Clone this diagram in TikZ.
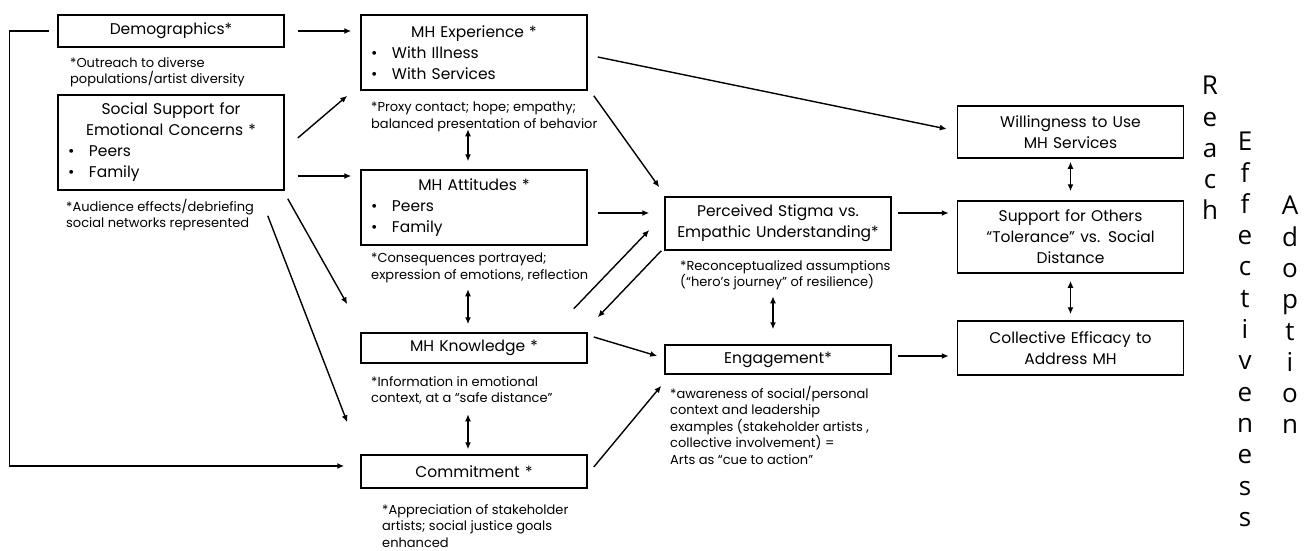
\documentclass[tikz,border=0pt]{standalone}
\usepackage{fontspec}
\setmainfont{Poppins}
\newfontfamily\notefont{Poppins}
\newfontfamily\sidefont{Open Sans}
\usetikzlibrary{arrows.meta}
\newcommand{\bulletline}[1]{\makebox[21pt][l]{\textbullet}#1}
\newcommand{\boxtitle}[1]{\makebox[206pt][c]{#1}}

\begin{document}
\begin{tikzpicture}[x=1pt, y=-1pt,
        box/.style={draw, line width=1.5pt, inner xsep=10pt, inner ysep=0pt,
          text width=206pt, align=center, font=\fontsize{15.5}{21}\selectfont},
        listbox/.style={box, align=left},
        note/.style={anchor=north west, inner sep=0pt, align=left,
          font=\notefont\fontsize{13}{16.5}\selectfont},
        side/.style={anchor=north, inner sep=0pt, align=center,
          font=\sidefont\fontsize{26}{31.3}\selectfont},
        arr/.style={line width=1.4pt, -{Latex[length=7pt,width=6pt]}},
        dbl/.style={line width=1.4pt, {Latex[length=7pt,width=6pt]}-{Latex[length=7pt,width=6pt]}}]
      \useasboundingbox (0,0) rectangle (1306,551);
      % first column
      \node[box, minimum height=32pt] (demo) at (171,31) {Demographics*};
      \node[note] (demonote) at (70,57) {*Outreach to diverse\\populations/artist diversity};
      \node[listbox, minimum height=95pt] (social) at (171,142.5) {\boxtitle{Social Support for}\\
        \boxtitle{Emotional Concerns *}\\\bulletline{Peers}\\\bulletline{Family}};
      \node[note] (socialnote) at (66,199) {*Audience effects/debriefing\\social networks represented};
      % second column
      \node[listbox, minimum height=75pt] (mhexp) at (474,52.5) {\boxtitle{MH Experience *}\\
        \bulletline{With Illness}\\\bulletline{With Services}};
      \node[note] (expnote) at (371,102) {*Proxy contact; hope; empathy;\\balanced presentation of behavior};
      \node[listbox, minimum height=75pt] (mhatt) at (474,207.5) {\boxtitle{MH Attitudes *}\\
        \bulletline{Peers}\\\bulletline{Family}};
      \node[note] (attnote) at (371,253) {*Consequences portrayed;\\expression of emotions, reflection};
      \node[box, minimum height=30pt] (mhknow) at (474,348) {MH Knowledge *};
      \node[note] (knownote) at (371,376) {*Information in emotional\\context, at a “safe distance”};
      \node[box, minimum height=33pt] (commit) at (474,471.5) {Commitment *};
      \node[note] (commitnote) at (382,504) {*Appreciation of stakeholder\\artists; social justice goals\\enhanced};
      % third column
      \node[box, minimum height=53pt] (stigma) at (778,223.5) {Perceived Stigma vs.\\Empathic Understanding*};
      \node[note] (stigmanote) at (680,260) {*Reconceptualized assumptions\\(“hero’s journey” of resilience)};
      \node[box, minimum height=29pt] (engage) at (778,359.5) {Engagement*};
      \node[note] (engagenote) at (670,386) {*awareness of social/personal\\context and leadership\\examples (stakeholder artists ,\\collective involvement) =\\Arts as “cue to action”};
      % outcomes
      \node[box, minimum height=52pt] (willing) at (1070.5,132) {Willingness to Use\\MH Services};
      \node[box, minimum height=72pt] (support) at (1070.5,237) {Support for Others\\“Tolerance” vs. Social\\Distance};
      \node[box, minimum height=54pt] (efficacy) at (1070.5,348) {Collective Efficacy to\\Address MH};
      \node[side] (reach) at (1210,76) {R\\e\\a\\c\\h};
      \node[side] (effect) at (1245,132) {E\\f\\f\\e\\c\\t\\i\\v\\e\\n\\e\\s\\s};
      \node[side] (adopt) at (1290,196) {A\\d\\o\\p\\t\\i\\o\\n};
      % connectors
      \draw[arr] ([shift={(13,0)}]demo.east) -- ([shift={(-9,-21.5)}]mhexp.west);
      \draw[arr] ([shift={(13,-4.5)}]social.east) -- ([shift={(-13,5)}]mhexp.south west);
      \draw[arr] ([shift={(13,33.5)}]social.east) -- ([shift={(-9,-31.5)}]mhatt.west);
      \draw[arr] ([shift={(3,8)}]social.south east) -- ([shift={(-13,-28)}]mhknow.north west);
      \draw[arr] ([shift={(-17,25)}]social.south east) -- ([shift={(-13,-32)}]commit.north west);
      \draw[arr] ([shift={(-8,0)}]demo.west) -- ++(-40,0) |- ([shift={(-16,-5.5)}]commit.west);
      \draw[arr] ([shift={(10,4.5)}]mhexp.east) -- ([shift={(-10,-3)}]willing.west);
      \draw[arr] ([shift={(6,5)}]mhexp.south east) -- ([shift={(-5,-9)}]stigma.north west);
      \draw[arr] ([shift={(10,5.5)}]mhatt.east) -- ([shift={(-15,-10.5)}]stigma.west);
      \draw[arr] ([shift={(-14,63)}]mhatt.south east) -- ([shift={(-15,6.5)}]stigma.west);
      \draw[arr] ([shift={(-3,0)}]stigma.south west) -- ([shift={(10,-15)}]mhknow.north east);
      \draw[arr] ([shift={(6,-11)}]mhknow.east) -- ([shift={(-7,-3.5)}]engage.west);
      \draw[arr] ([shift={(6,-4.5)}]commit.east) -- ([shift={(-3,11)}]engage.south west);
      \draw[arr] ([shift={(6,-10.5)}]stigma.east) -- ([shift={(-8,-24)}]support.west);
      \draw[arr] ([shift={(6,-3.5)}]engage.east) -- ([shift={(-8,8)}]efficacy.west);
      \draw[dbl] ([shift={(-6,-40)}]mhatt.north) -- ([shift={(-6,-8)}]mhatt.north);
      \draw[dbl] ([shift={(-6,-43)}]mhknow.north) -- ([shift={(-6,-8)}]mhknow.north);
      \draw[dbl] ([shift={(-6,-40)}]commit.north) -- ([shift={(-6,-5)}]commit.north);
      \draw[dbl] ([shift={(-5,-48)}]engage.north) -- ([shift={(-5,-15)}]engage.north);
      \draw[dbl] ([shift={(0,3)}]willing.south) -- ([shift={(0,-9)}]support.north);
      \draw[dbl] ([shift={(0,7)}]support.south) -- ([shift={(0,-6)}]efficacy.north);
    \end{tikzpicture}
\end{document}
